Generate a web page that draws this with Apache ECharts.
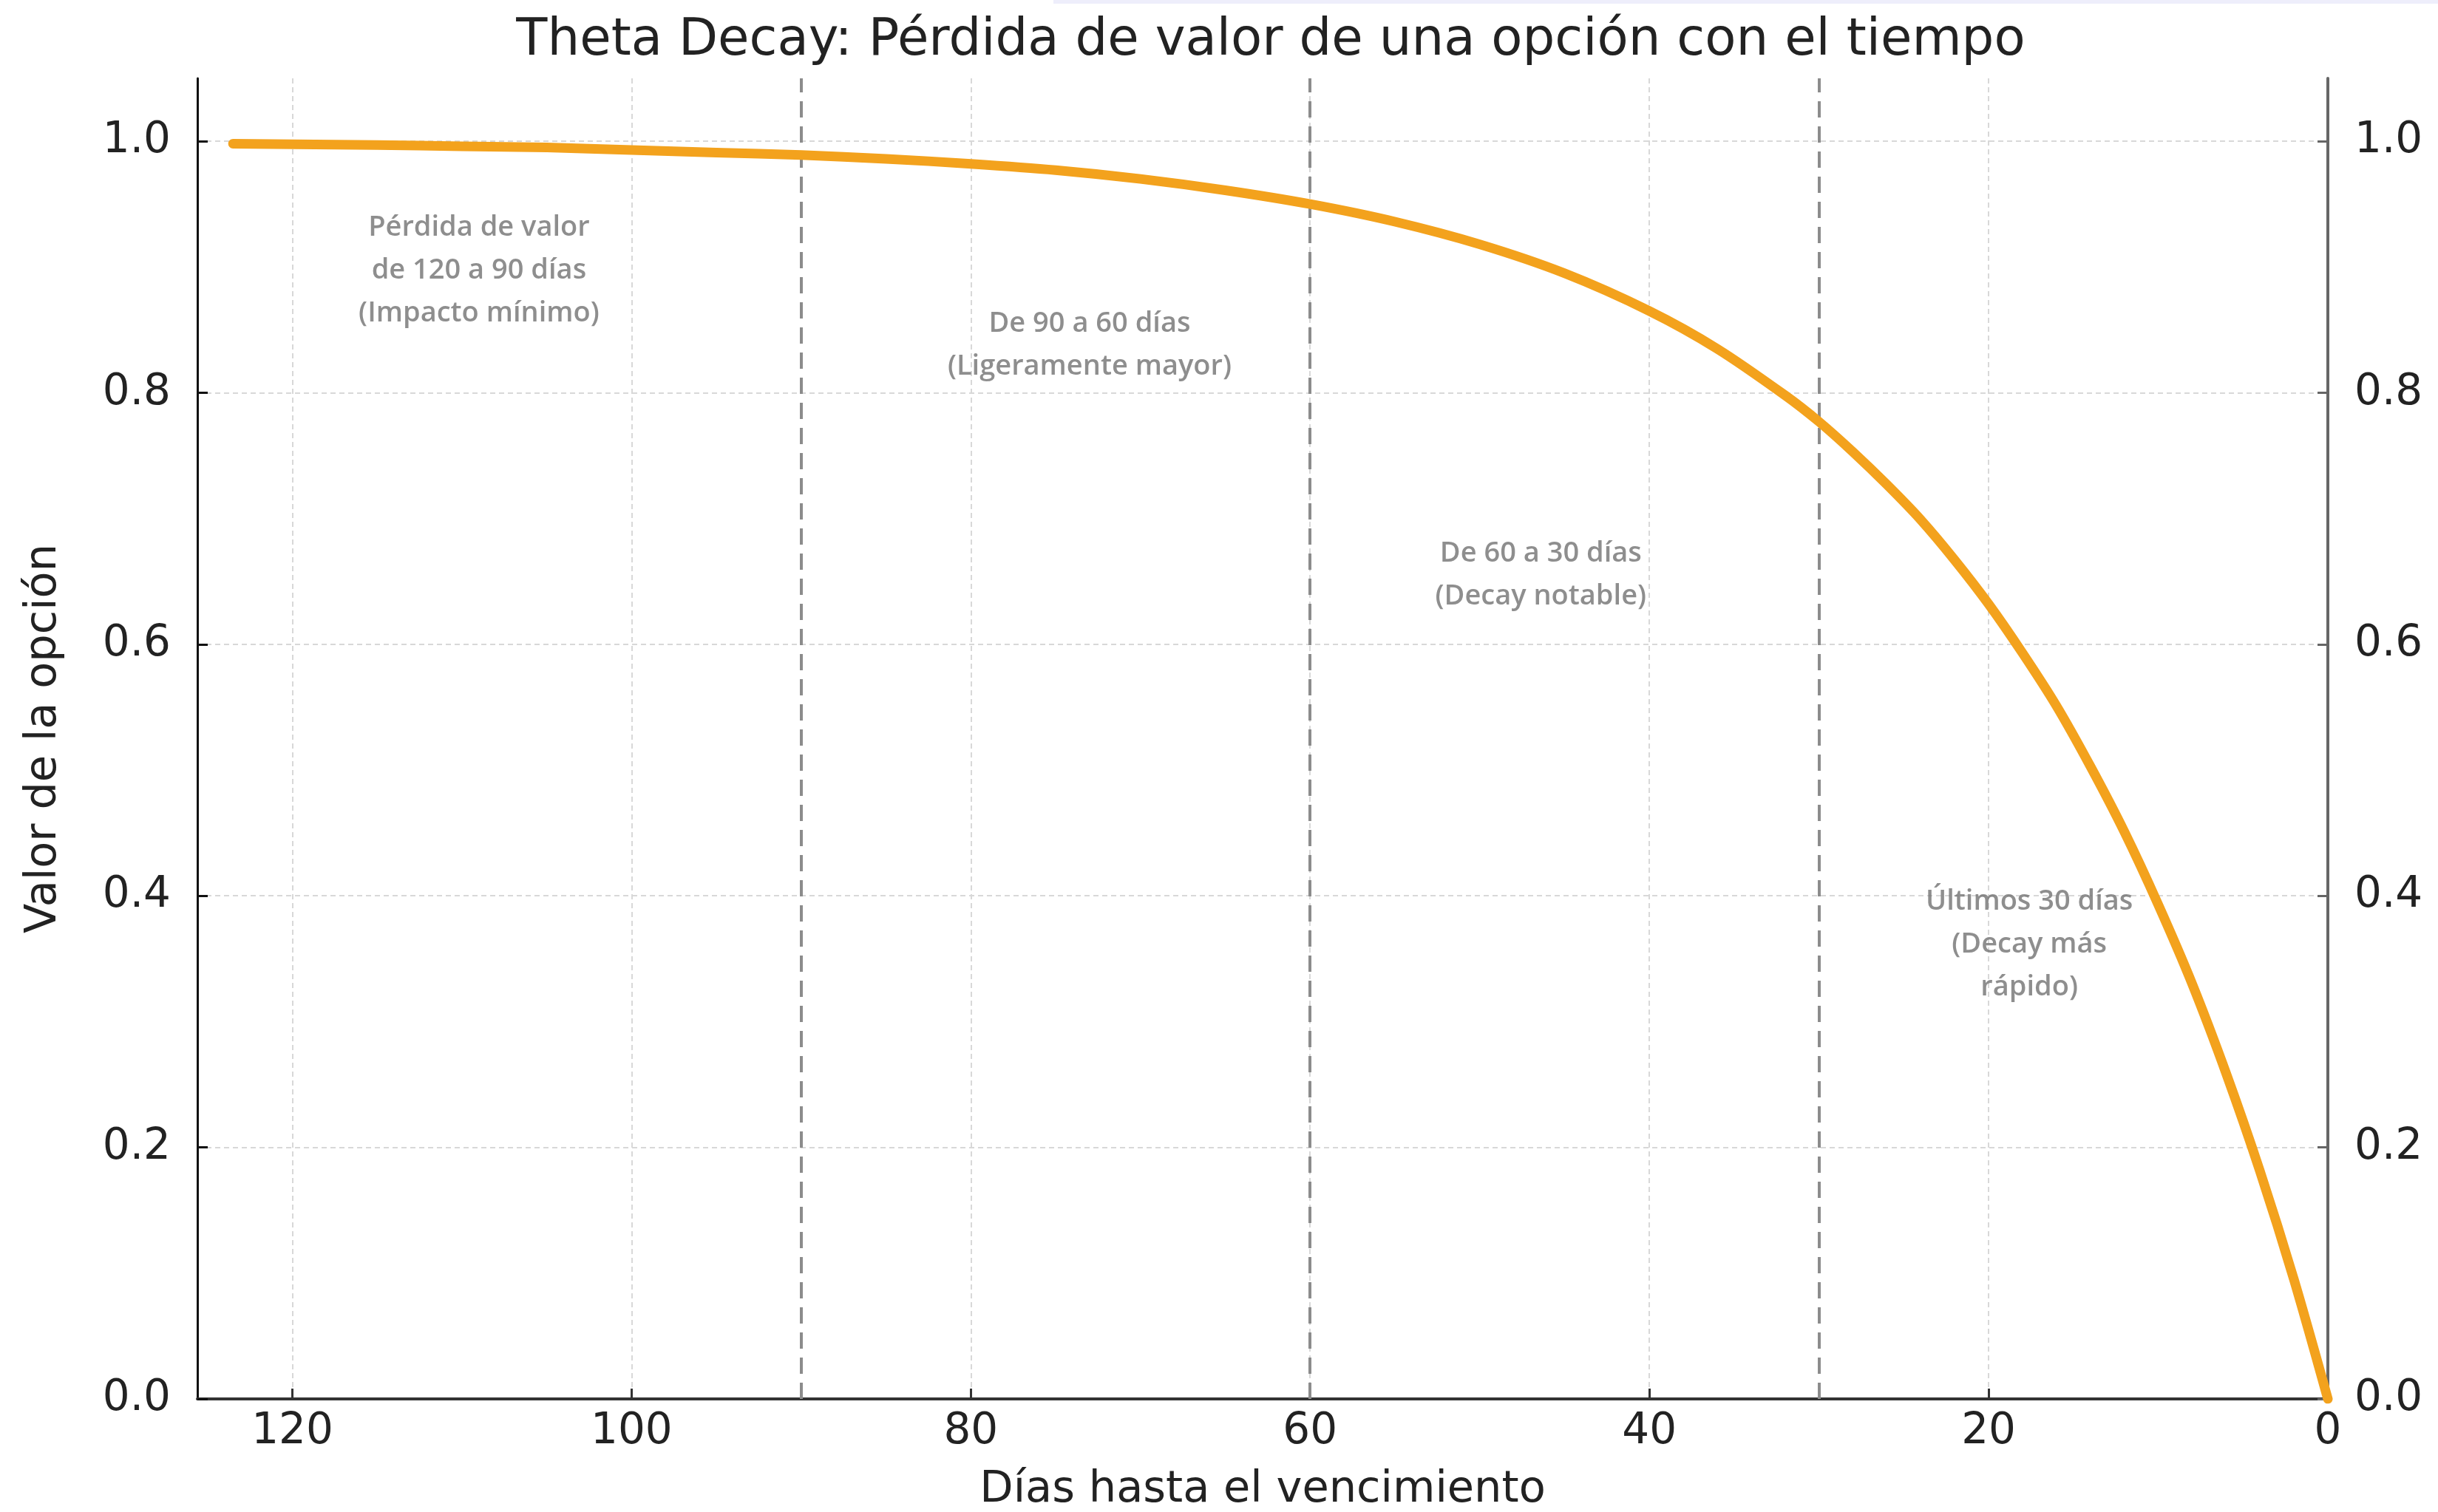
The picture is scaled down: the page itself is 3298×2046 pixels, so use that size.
<!DOCTYPE html>
<html>
<head>
<meta charset="utf-8">
<script src="https://cdn.jsdelivr.net/npm/echarts@6/dist/echarts.min.js"></script>
<style>
html,body{margin:0;padding:0;background:#fff;}
#chart{width:3298px;height:2046px;}
</style>
</head>
<body>
<div id="chart"></div>
<script>
// ---- data ----
const titleText = 'Theta Decay: Pérdida de valor de una opción con el tiempo';
const xAxisName = 'Días hasta el vencimiento';
const yAxisName = 'Valor de la opción';

const days = [123.5, 115, 110, 105, 100, 95, 90, 85, 80, 75, 70, 65, 60, 55, 50, 45, 40, 36, 32, 30, 28, 26, 24, 22, 20, 18, 16, 14, 12, 10, 8, 6, 4, 2, 0];
const optionValue = [0.998, 0.997, 0.996, 0.995, 0.993, 0.991, 0.989, 0.986, 0.982, 0.977, 0.970, 0.961, 0.950, 0.936, 0.918, 0.895, 0.865, 0.835, 0.798, 0.777, 0.753, 0.727, 0.699, 0.667, 0.632, 0.593, 0.551, 0.503, 0.451, 0.393, 0.330, 0.259, 0.181, 0.095, 0.0];

const xTicks = [0, 20, 40, 60, 80, 100, 120];
const yTicks = [0, 0.2, 0.4, 0.6, 0.8, 1.0];
const xMax = 125.6;
const yMax = 1.05;

const phaseBoundaries = [90, 60, 30];

const annotationTexts = [
  'Pérdida de valor\nde 120 a 90 días\n(Impacto mínimo)',
  'De 90 a 60 días\n(Ligeramente mayor)',
  'De 60 a 30 días\n(Decay notable)',
  'Últimos 30 días\n(Decay más\nrápido)'
];
const annotationX = [109.0, 73.0, 46.4, 17.6];
const annotationY = [0.897, 0.838, 0.655, 0.361];

// ---- chart ----
const chart = echarts.init(document.getElementById('chart'), null, {renderer: 'canvas'});

const tickFont = {fontFamily: 'DejaVu Sans', fontSize: 58, color: '#222'};
const gridLine = {show: true, lineStyle: {color: '#d8d8d8', width: 2, type: [7, 5]}};
const yFmt = v => v.toFixed(1);

const option = {
  backgroundColor: '#ffffff',
  animation: false,
  title: {
    text: titleText,
    left: 1714,
    top: 17,
    textAlign: 'center',
    textStyle: {fontFamily: 'DejaVu Sans', fontSize: 69, fontWeight: 'normal', color: '#222'}
  },
  grid: {left: 267, right: 149, top: 106, bottom: 153, containLabel: false, outerBoundsMode: 'none'},
  xAxis: {
    type: 'value',
    min: 0,
    max: xMax,
    inverse: true,
    name: xAxisName,
    nameLocation: 'middle',
    nameGap: 94,
    nameTextStyle: {fontFamily: 'DejaVu Sans', fontSize: 59, color: '#222'},
    axisLine: {show: true, onZero: false, lineStyle: {color: '#333', width: 4}},
    axisTick: {show: true, inside: true, length: 14, customValues: xTicks, lineStyle: {color: '#333', width: 3}},
    axisLabel: {show: true, customValues: xTicks, margin: 16, formatter: v => String(Math.round(v)), ...tickFont},
    splitLine: gridLine
  },
  yAxis: [
    {
      type: 'value',
      position: 'left',
      min: 0,
      max: yMax,
      name: yAxisName,
      nameLocation: 'middle',
      nameGap: 178,
      nameRotate: 90,
      nameTextStyle: {fontFamily: 'DejaVu Sans', fontSize: 59, color: '#222'},
      axisLine: {show: true, onZero: false, lineStyle: {color: '#111', width: 3}},
      axisTick: {show: true, inside: true, length: 14, customValues: yTicks, lineStyle: {color: '#111', width: 3}},
      axisLabel: {show: true, customValues: yTicks, margin: 36, formatter: yFmt, ...tickFont},
      splitLine: gridLine
    },
    {
      type: 'value',
      position: 'right',
      min: 0,
      max: yMax,
      axisLine: {show: true, onZero: false, lineStyle: {color: '#666', width: 4}},
      axisTick: {show: true, inside: true, length: 14, customValues: yTicks, lineStyle: {color: '#666', width: 3}},
      axisLabel: {show: true, customValues: yTicks, margin: 36, formatter: yFmt, ...tickFont},
      splitLine: {show: false}
    }
  ],
  graphic: [
    {type: 'rect', left: 1425, top: 0, shape: {width: 1873, height: 5}, style: {fill: '#eeeefb'}, silent: true}
  ],
  series: [
    {
      type: 'line',
      name: 'Valor',
      data: days.map((d, i) => [d, optionValue[i]]),
      xAxisIndex: 0,
      yAxisIndex: 0,
      showSymbol: false,
      smooth: 0.3,
      lineStyle: {color: '#f3a21d', width: 13, cap: 'round', join: 'round'},
      itemStyle: {color: '#f3a21d'},
      z: 3,
      markLine: {
        silent: true,
        symbol: 'none',
        label: {show: false},
        lineStyle: {color: '#8c8c8c', width: 4, type: [22, 12]},
        data: phaseBoundaries.map(b => ({xAxis: b})),
        z: 2
      }
    },
    {
      type: 'scatter',
      name: 'Notas',
      xAxisIndex: 0,
      yAxisIndex: 0,
      symbolSize: 0,
      silent: true,
      z: 4,
      data: annotationTexts.map((t, i) => ({name: t, value: [annotationX[i], annotationY[i]]})),
      label: {
        show: true,
        position: 'inside',
        formatter: p => p.name,
        fontFamily: 'Open Sans',
        fontSize: 38,
        fontWeight: 600,
        lineHeight: 58,
        color: '#727272',
        align: 'center',
        verticalAlign: 'middle'
      }
    }
  ]
};
chart.setOption(option);
</script>
</body>
</html>
